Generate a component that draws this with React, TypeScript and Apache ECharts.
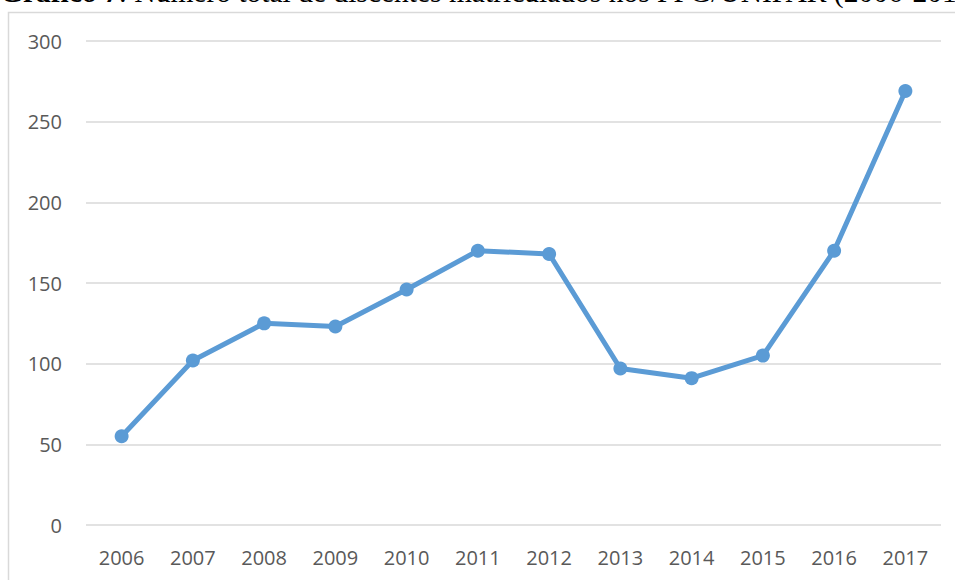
import React, { useEffect, useRef } from "react";
import * as echarts from "echarts";

const categories = ["2006", "2007", "2008", "2009", "2010", "2011", "2012", "2013", "2014", "2015", "2016", "2017"];
const discentes = [55, 102, 125, 123, 146, 170, 168, 97, 91, 105, 170, 269];
const titleBold = "Gráfico 7";
const titleRest = ": Número total de discentes matriculados nos PPG/UNIPAR (2006-2017)";

export default function App() {
  const ref = useRef<HTMLDivElement>(null);
  useEffect(() => {
    if (!ref.current) return;
    const chart = echarts.init(ref.current, null, { renderer: "svg" });
    chart.setOption({
      animation: false,
      backgroundColor: "#ffffff",
      graphic: [
        {
          type: "rect",
          shape: { x: 8.5, y: 12.5, width: 1000, height: 600 },
          style: { fill: "none", stroke: "#d9d9d9", lineWidth: 1.5 },
          silent: true,
        },
        {
          type: "text",
          x: 0,
          y: 7,
          style: {
            text: `{b|${titleBold}}{r|${titleRest}}`,
            verticalAlign: "bottom",
            rich: {
              b: { fontFamily: "Liberation Serif", fontSize: 29.5, fontWeight: "bold", fill: "#000" },
              r: { fontFamily: "Liberation Serif", fontSize: 29.5, fill: "#000" },
            },
          },
        },
      ],
      grid: { left: 86, right: 14, top: 41, bottom: 55, containLabel: false },
      xAxis: {
        type: "category",
        data: categories,
        boundaryGap: true,
        axisLine: { show: false },
        axisTick: { show: false },
        axisLabel: { color: "#595959", fontFamily: "Open Sans", fontSize: 20, margin: 22 },
      },
      yAxis: {
        type: "value",
        min: 0,
        max: 300,
        interval: 50,
        axisLine: { show: false },
        axisTick: { show: false },
        axisLabel: { color: "#595959", fontFamily: "Open Sans", fontSize: 20, margin: 24 },
        splitLine: { lineStyle: { color: "#d9d9d9", width: 1.5 } },
      },
      series: [
        {
          type: "line",
          data: discentes,
          symbol: "circle",
          symbolSize: 14,
          lineStyle: { color: "#5b9bd5", width: 5 },
          itemStyle: { color: "#5b9bd5" },
        },
      ],
    });
    return () => chart.dispose();
  }, []);
  return <div ref={ref} style={{ position: "fixed", left: 0, top: 0, width: 955, height: 580, background: "#fff" }} />;
}
